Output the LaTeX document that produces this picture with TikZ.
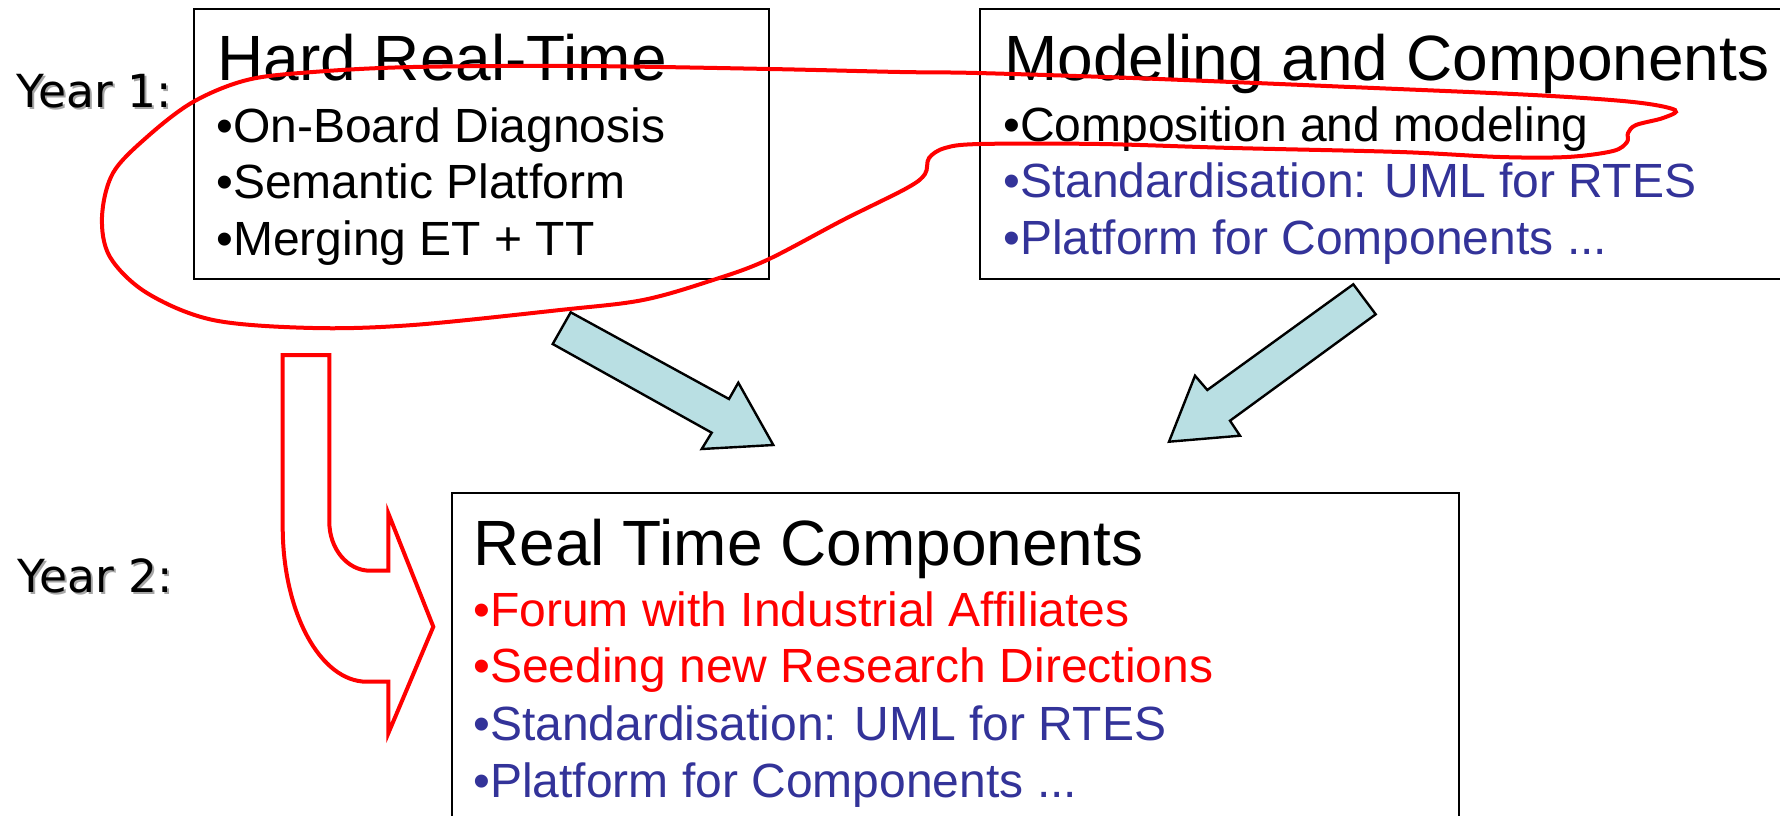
\documentclass[tikz,border=0pt]{standalone}
\usepackage{fontspec}
\setmainfont{Liberation Sans}
\newfontfamily\yearfont{DejaVu Sans}
\definecolor{pptblue}{RGB}{51,51,153}
\definecolor{pptred}{RGB}{255,0,0}
\definecolor{arrowfill}{RGB}{185,223,227}
\begin{document}
\begin{tikzpicture}[x=0.5pt,y=-0.5pt,
  box/.style={draw=black, line width=1pt, anchor=north west, inner sep=0pt, fill=none},
  ttl/.style={anchor=base west, inner sep=0pt, font=\fontsize{32}{38}\selectfont},
  bul/.style={anchor=base west, inner sep=0pt, font=\fontsize{24}{29}\selectfont},
  yr/.style={anchor=base west, inner sep=0pt, font=\yearfont\fontsize{22.8}{27}\selectfont},
  yrshadow/.style={yr, text=black!35},
  blockarrow/.style={draw=black, line width=1.2pt, fill=arrowfill, line join=miter},
  redarrow/.style={draw=pptred, line width=2pt, line join=miter},
  redloop/.style={draw=pptred, line width=2pt}
]
\useasboundingbox (0,0) rectangle (1780,815);
\clip (0,0) rectangle (1780,815);
\fill[white] (0,0) rectangle (1780,815);

% boxes
\node[box, minimum width=287.5pt, minimum height=135pt] (b1) at (193,8) {};
\node[box, minimum width=420pt, minimum height=135pt] (b2) at (979,8) {};
\node[box, minimum width=503.5pt, minimum height=200pt] (b3) at (451,492) {};

% box 1 text
\node[ttl] (b1t) at (217,80) {Hard Real-Time};
\node[bul] (b1a) at (216,142) {•On-Board Diagnosis};
\node[bul] (b1b) at (216,198) {•Semantic Platform};
\node[bul] (b1c) at (216,255) {•Merging ET + TT};

% box 2 text
\node[ttl] (b2t) at (1004,80) {Modeling and Components};
\node[bul] (b2a) at (1003,141) {•Composition and modeling};
\node[bul, text=pptblue] (b2b) at (1003,197) {•Standardisation: UML for RTES};
\node[bul, text=pptblue] (b2c) at (1003,254) {•Platform for Components ...};

% box 3 text
\node[ttl] (b3t) at (473,565) {Real Time Components};
\node[bul, text=pptred] (b3a) at (473,626) {•Forum with Industrial Affiliates};
\node[bul, text=pptred] (b3b) at (473,682) {•Seeding new Research Directions};
\node[bul, text=pptblue] (b3c) at (473,740) {•Standardisation: UML for RTES};
\node[bul, text=pptblue] (b3d) at (473,797) {•Platform for Components ...};

% year labels
\node[yrshadow] at (18.5,109) {Year 1:};
\node[yr] (y1) at (16,107) {Year 1:};
\node[yrshadow] at (19.5,594) {Year 2:};
\node[yr] (y2) at (17,592) {Year 2:};

% cyan block arrows
\draw[blockarrow] (570.7,312.3) -- (729,399) -- (738.3,382.7) -- (773.3,445)
  -- (701.7,449) -- (711.7,432.7) -- (552.7,344) -- cycle;
\draw[blockarrow] (1353.3,284.3) -- (1375.7,314.3) -- (1230,420.7) -- (1240,435.7)
  -- (1169,441.7) -- (1195,375.7) -- (1207.3,390) -- cycle;

% red bent arrow
\draw[redarrow] (282.7,355) -- (329.3,355) -- (329.3,521.7)
  .. controls (329.3,548.8) and (347.5,570.7) .. (370,570.7)
  -- (388.3,570.7) -- (388.3,513.3) -- (433.3,626.7) -- (388.3,733.3)
  -- (388.3,681.7) -- (366.7,681.7)
  .. controls (320.3,681.7) and (282.7,612.3) .. (282.7,526.7) -- cycle;

% red freehand loop
\draw[redloop] plot[smooth cycle, tension=0.55] coordinates {
  (313,72) (413,67) (580,66) (770,69) (900,72) (977,73) (1133,78) (1350,87)
  (1533,95) (1633,102) (1675,110) (1663,118) (1636,125) (1628,133) (1627,142)
  (1613,151) (1567,157) (1500,157) (1400,152) (1233,148) (1100,144) (980,144)
  (945,148) (929,158) (925,174) (907,188) (843,220) (767,260) (713,280)
  (643,300) (560,310) (413,325) (313,328) (213,320) (147,293) (110,257)
  (102,217) (113,173) (147,137) (193,102) (247,80)};
\end{tikzpicture}
\end{document}
